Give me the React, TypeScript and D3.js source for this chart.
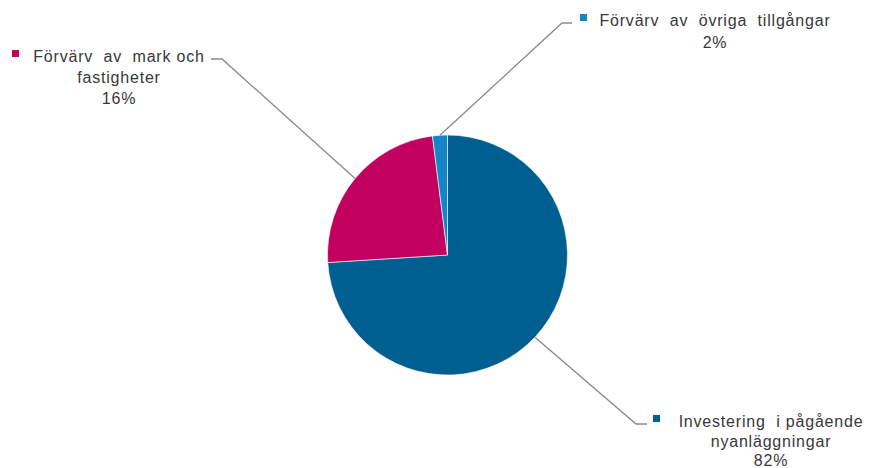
import React from "react";
import * as d3 from "d3";

// slices as drawn in the source picture, clockwise from 12 o'clock
const categories = ["Investering i pågående nyanläggningar", "Förvärv av mark och fastigheter", "Förvärv av övriga tillgångar"];
const sliceShares = [74, 24, 2];
const percentLabels = ["82%", "16%", "2%"];
const labelLines = [
  ["Investering  i pågående", "nyanläggningar"],
  ["Förvärv  av  mark och", "fastigheter"],
  ["Förvärv  av  övriga  tillgångar"],
];
const colors = ["#005f91", "#c2005f", "#1585c8"];

const width = 869;
const height = 468;
const cx = 447.5;
const cy = 255;
const radius = 120;

// label placement: text block centre, first baseline, legend square x, leader elbow + end
const labelPos = [
  { x: 771, y: 427, gap: 19.5, sq: 653, elbow: [636, 424], end: 647 },
  { x: 119, y: 62, gap: 21, sq: 12, elbow: [222, 59], end: 211 },
  { x: 715, y: 26, gap: 22, sq: 580, elbow: [562, 23], end: 572 },
];

export default function App() {
  const pie = d3.pie<number>().sort(null).value((d) => d);
  const arcs = pie(sliceShares);
  const arc = d3.arc<d3.PieArcDatum<number>>().innerRadius(0).outerRadius(radius);
  const edge = d3.arc<d3.PieArcDatum<number>>().innerRadius(radius).outerRadius(radius);

  return (
    <svg width={width} height={height} style={{ position: "absolute", left: 0, top: 0, background: "#fff" }}>
      <g transform={`translate(${cx},${cy})`}>
        {arcs.map((a, i) => (
          <path key={categories[i]} d={arc(a) || ""} fill={colors[i]} stroke="#fff" strokeWidth={0.6} />
        ))}
      </g>
      {arcs.map((a, i) => {
        const [ex, ey] = edge.centroid(a);
        const p = labelPos[i];
        const pts: [number, number][] = [
          [cx + ex, cy + ey],
          [p.elbow[0], p.elbow[1]],
          [p.end, p.elbow[1]],
        ];
        return (
          <path key={"l" + i} d={d3.line()(pts) || ""} fill="none" stroke="#8a8a8a" strokeWidth={1.3} />
        );
      })}
      {labelPos.map((p, i) => {
        const lines = [...labelLines[i], percentLabels[i]];
        return (
          <g key={"t" + i} fontFamily="'Liberation Sans', Arial, sans-serif" fontSize={16} fill="#383838" letterSpacing={0.8}>
            <rect x={p.sq} y={p.y - 12} width={7} height={7} fill={colors[i]} />
            {lines.map((t, j) => (
              <text key={j} x={p.x} y={p.y + j * p.gap} textAnchor="middle" style={{ whiteSpace: "pre" }}>
                {t}
              </text>
            ))}
          </g>
        );
      })}
    </svg>
  );
}
